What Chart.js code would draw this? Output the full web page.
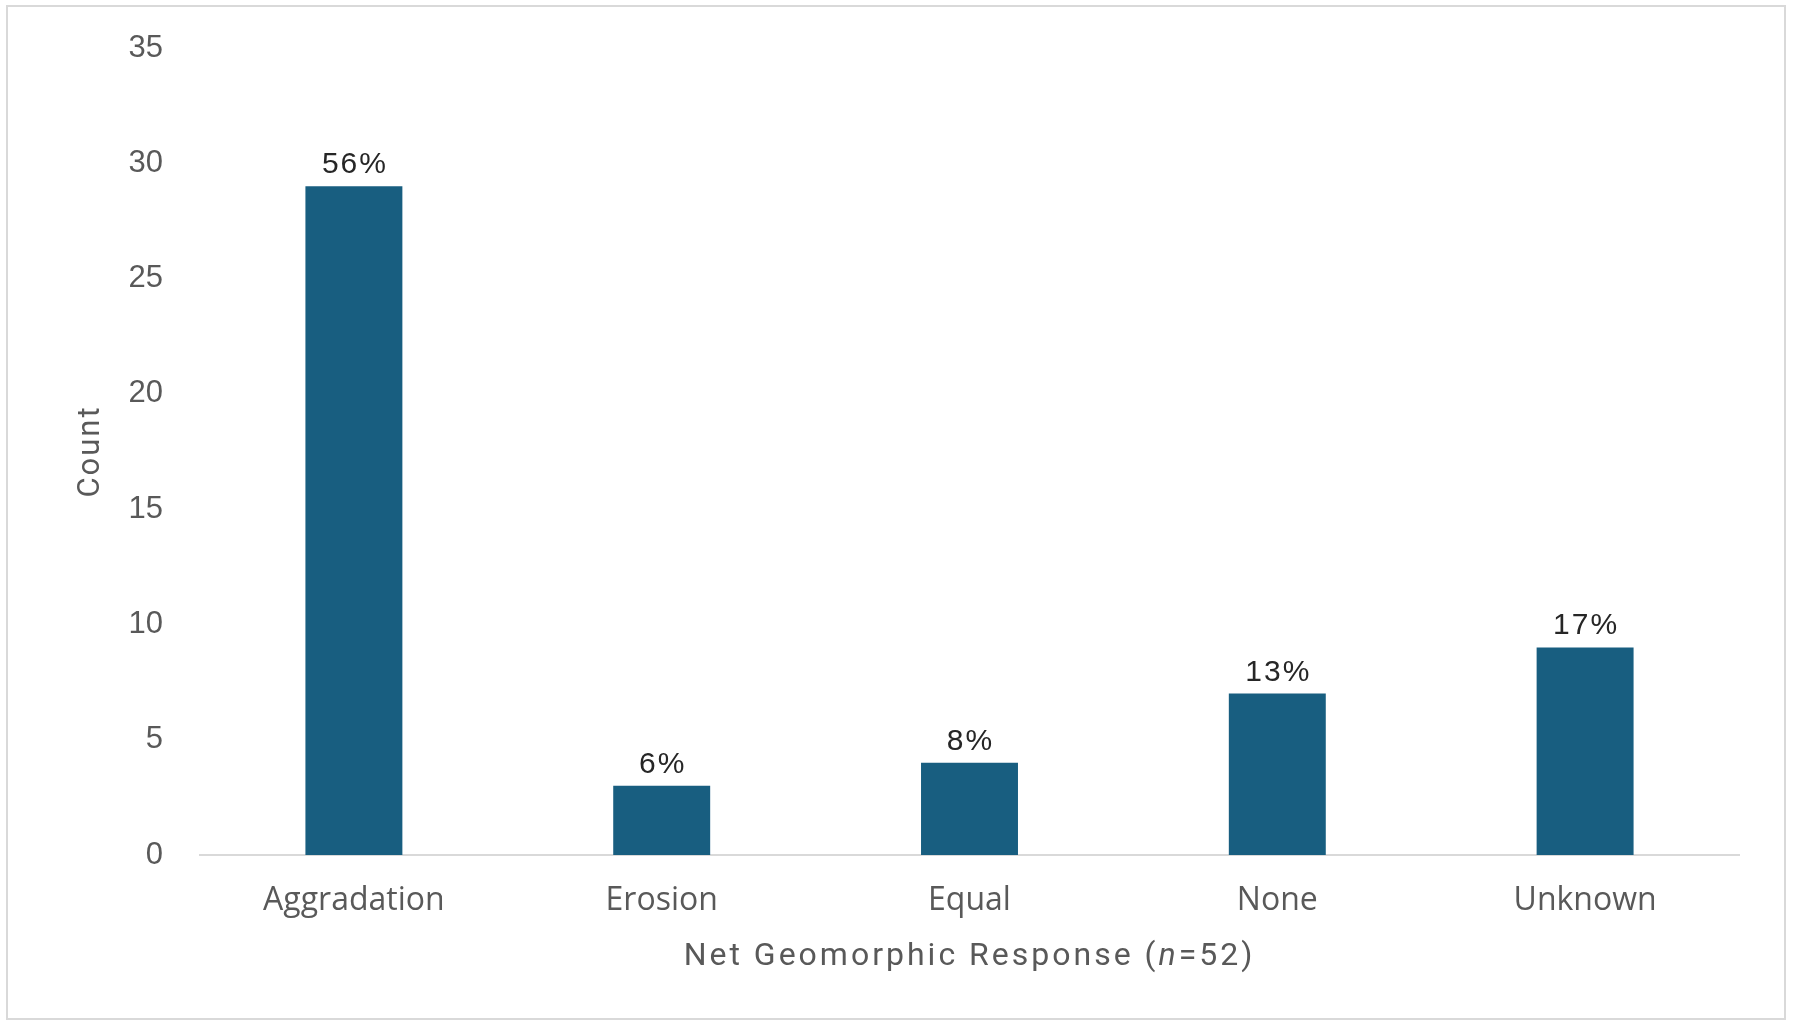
<!DOCTYPE html>
<html>
<head>
<meta charset="utf-8">
<title>Net Geomorphic Response</title>
<script src="https://cdn.jsdelivr.net/npm/chart.js@4.4.1/dist/chart.umd.min.js"></script>
<style>
  html, body { margin: 0; padding: 0; background: #ffffff; overflow: hidden; }
  #wrap { position: relative; width: 1794px; height: 1022px; }
</style>
</head>
<body>
<div id="wrap"><canvas id="chart"></canvas></div>
<script>
// Responses and their counts
const categories = ['Aggradation', 'Erosion', 'Equal', 'None', 'Unknown'];
const counts = [29, 3, 4, 7, 9];
const yTicks = [0, 5, 10, 15, 20, 25, 30, 35];
const yTitle = 'Count';
// x-axis title pieces: [text, italic?]
const xTitleParts = [['Net Geomorphic Response (', false], ['n', true], ['=52)', false]];

const total = counts.reduce((a, b) => a + b, 0);
const percentLabels = counts.map(v => Math.round(v / total * 100) + '%');

const GREY = '#595959';
const TITLE_FONT = 'Roboto, "Noto Sans", sans-serif';

// Light frame around the whole figure
const framePlugin = {
  id: 'frame',
  beforeDraw(chart) {
    const ctx = chart.ctx;
    ctx.save();
    ctx.fillStyle = '#ffffff';
    ctx.fillRect(0, 0, chart.width, chart.height);
    ctx.strokeStyle = '#d9d9d9';
    ctx.lineWidth = 2;
    ctx.strokeRect(7, 6, 1778, 1013);
    ctx.restore();
  }
};

// Percentage labels above each bar
const barLabelPlugin = {
  id: 'barLabels',
  afterDatasetsDraw(chart) {
    const ctx = chart.ctx;
    const meta = chart.getDatasetMeta(0);
    ctx.save();
    ctx.font = '30px "Liberation Sans", Arial, sans-serif';
    ctx.letterSpacing = '2px';
    ctx.fillStyle = '#262626';
    ctx.textAlign = 'center';
    ctx.textBaseline = 'alphabetic';
    meta.data.forEach((bar, i) => {
      ctx.fillText(percentLabels[i], bar.x + 1, bar.y - 13);
    });
    ctx.restore();
  }
};

// Axis titles (the x title has an italic "n")
const axisTitlePlugin = {
  id: 'axisTitles',
  afterDraw(chart) {
    const ctx = chart.ctx;
    const area = chart.chartArea;
    const fontFor = (it, size) => (it ? 'italic ' : '') + size + 'px ' + TITLE_FONT;
    ctx.save();
    ctx.fillStyle = GREY;
    ctx.letterSpacing = '3px';
    ctx.textAlign = 'left';
    ctx.textBaseline = 'alphabetic';
    let width = 0;
    xTitleParts.forEach(([t, it]) => { ctx.font = fontFor(it, 32); width += ctx.measureText(t).width; });
    let x = (area.left + area.right) / 2 - width / 2;
    const y = area.bottom + 110;
    xTitleParts.forEach(([t, it]) => {
      ctx.font = fontFor(it, 32);
      ctx.fillText(t, x, y);
      x += ctx.measureText(t).width;
    });
    ctx.restore();

    // rotated y title
    ctx.save();
    ctx.fillStyle = GREY;
    ctx.letterSpacing = '2px';
    ctx.font = fontFor(false, 31);
    ctx.translate(99, (area.top + area.bottom) / 2);
    ctx.rotate(-Math.PI / 2);
    ctx.textAlign = 'center';
    ctx.textBaseline = 'alphabetic';
    ctx.fillText(yTitle, 0, 0);
    ctx.restore();
  }
};

new Chart(document.getElementById('chart'), {
  type: 'bar',
  data: {
    labels: categories,
    datasets: [{
      data: counts,
      backgroundColor: '#185e80',
      borderWidth: 0,
      barPercentage: 1,
      categoryPercentage: 0.315
    }]
  },
  options: {
    responsive: true,
    maintainAspectRatio: false,
    animation: false,
    devicePixelRatio: 1,
    layout: { padding: { left: 0, right: 55, top: 48, bottom: 0 } },
    plugins: {
      legend: { display: false },
      tooltip: { enabled: false }
    },
    scales: {
      x: {
        grid: { display: false },
        border: { display: true, color: '#d9d9d9', width: 2 },
        ticks: {
          color: GREY,
          font: { family: '"Open Sans", sans-serif', size: 32 },
          padding: 19,
          maxRotation: 0
        },
        afterFit(scale) { scale.height = 167; }
      },
      y: {
        min: 0,
        max: 35,
        afterBuildTicks(scale) { scale.ticks = yTicks.map(v => ({ value: v })); },
        grid: { display: false, drawTicks: false },
        border: { display: false },
        ticks: {
          color: GREY,
          font: { family: '"Liberation Sans", Arial, sans-serif', size: 31 },
          padding: 37
        },
        afterFit(scale) {
          scale.width = 200;
          scale.paddingTop = 0;
          scale.paddingBottom = 0;
        }
      }
    }
  },
  plugins: [framePlugin, barLabelPlugin, axisTitlePlugin]
});
</script>
</body>
</html>
